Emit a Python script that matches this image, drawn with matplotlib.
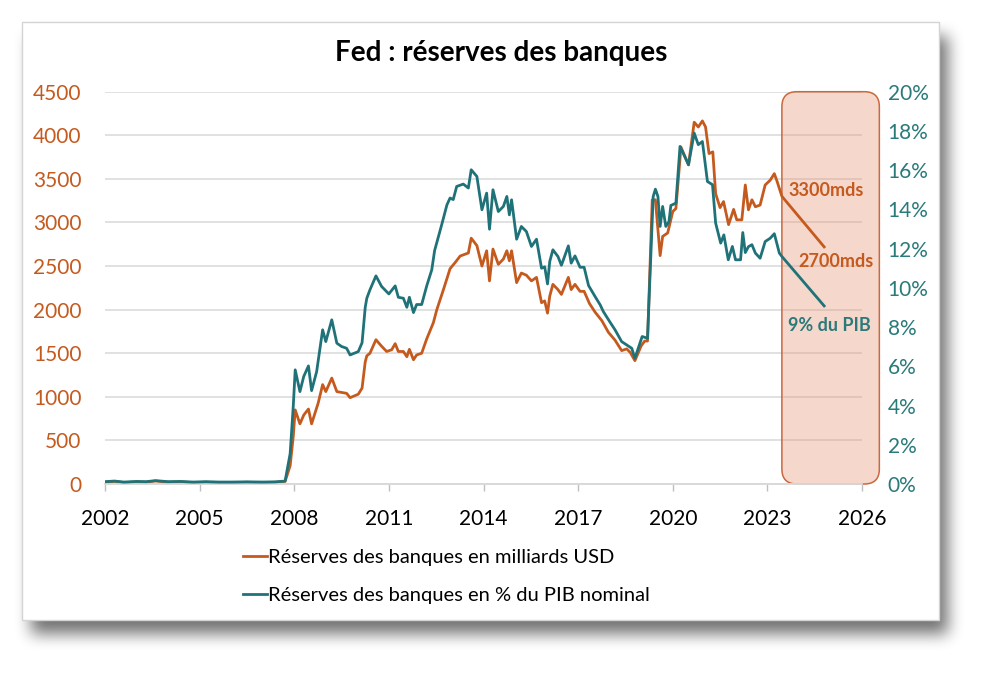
import numpy as np
import matplotlib
matplotlib.use("Agg")
import matplotlib.pyplot as plt
from matplotlib.patches import FancyBboxPatch, Rectangle

# ---------------- data ----------------
usd_years = [2002.0, 2002.3, 2002.6, 2003.0, 2003.3, 2003.6, 2004.0, 2004.4, 2004.8,
             2005.2, 2005.6, 2006.0, 2006.5, 2007.0, 2007.4, 2007.71, 2007.87, 2007.97,
             2008.03, 2008.18, 2008.30, 2008.45, 2008.55, 2008.76, 2008.90, 2009.00,
             2009.19, 2009.35, 2009.50, 2009.66, 2009.77, 2010.03, 2010.15, 2010.25,
             2010.30, 2010.40, 2010.59, 2010.77, 2010.93, 2011.09, 2011.20, 2011.30,
             2011.46, 2011.57, 2011.65, 2011.78, 2011.88, 2012.04, 2012.20, 2012.41,
             2012.52, 2012.73, 2012.94, 2013.10, 2013.26, 2013.52, 2013.61, 2013.79,
             2013.95, 2014.10, 2014.19, 2014.30, 2014.47, 2014.63, 2014.74, 2014.82,
             2014.89, 2015.05, 2015.20, 2015.36, 2015.52, 2015.68, 2015.84, 2015.94,
             2016.03, 2016.10, 2016.20, 2016.36, 2016.47, 2016.69, 2016.78, 2016.90,
             2017.06, 2017.19, 2017.36, 2017.54, 2017.75, 2017.96, 2018.17, 2018.38,
             2018.54, 2018.65, 2018.80, 2019.00, 2019.11, 2019.20, 2019.35, 2019.45,
             2019.60, 2019.68, 2019.84, 2020.00, 2020.10, 2020.26, 2020.50, 2020.68,
             2020.81, 2020.94, 2021.04, 2021.15, 2021.27, 2021.36, 2021.50, 2021.61,
             2021.77, 2021.93, 2022.03, 2022.19, 2022.30, 2022.40, 2022.51, 2022.62,
             2022.77, 2022.93, 2023.09, 2023.22, 2023.30, 2023.46, 2024.80]
usd_values = [20, 30, 15, 25, 20, 35, 20, 25, 15,
              20, 15, 15, 20, 15, 20, 30, 210, 550,
              850, 690, 790, 860, 690, 930, 1140, 1060,
              1215, 1060, 1050, 1040, 990, 1030, 1100, 1400,
              1470, 1500, 1655, 1580, 1520, 1540, 1610, 1520,
              1520, 1460, 1545, 1425, 1480, 1500, 1665, 1850,
              2000, 2230, 2470, 2540, 2615, 2650, 2820, 2735,
              2500, 2675, 2330, 2695, 2520, 2580, 2675, 2560,
              2675, 2310, 2420, 2395, 2330, 2370, 2080, 2100,
              1960, 2155, 2290, 2230, 2175, 2370, 2230, 2290,
              2210, 2210, 2070, 1970, 1875, 1740, 1650, 1530,
              1550, 1510, 1415, 1585, 1640, 1640, 3260, 3260,
              2620, 2840, 2880, 3125, 3160, 3865, 3660, 4150,
              4095, 4165, 4095, 3790, 3810, 3330, 3170, 3240,
              2975, 3150, 3030, 3030, 3430, 3145, 3260, 3180,
              3200, 3430, 3485, 3560, 3480, 3300, 2720]

pct_years = [2002.0, 2002.3, 2002.6, 2003.0, 2003.3, 2003.6, 2004.0, 2004.4, 2004.8,
             2005.2, 2005.6, 2006.0, 2006.5, 2007.0, 2007.4, 2007.71, 2007.87, 2007.97,
             2008.03, 2008.18, 2008.30, 2008.45, 2008.55, 2008.71, 2008.90, 2009.00,
             2009.19, 2009.35, 2009.50, 2009.66, 2009.77, 2010.03, 2010.15, 2010.25,
             2010.30, 2010.40, 2010.59, 2010.77, 2011.00, 2011.20, 2011.30, 2011.46,
             2011.57, 2011.65, 2011.78, 2011.88, 2012.04, 2012.20, 2012.36, 2012.45,
             2012.68, 2012.84, 2012.94, 2013.04, 2013.15, 2013.36, 2013.52, 2013.61,
             2013.79, 2013.95, 2014.10, 2014.19, 2014.30, 2014.47, 2014.63, 2014.74,
             2014.82, 2014.89, 2015.05, 2015.20, 2015.36, 2015.52, 2015.68, 2015.84,
             2015.94, 2016.03, 2016.10, 2016.20, 2016.36, 2016.47, 2016.69, 2016.78,
             2016.90, 2017.06, 2017.19, 2017.33, 2017.54, 2017.70, 2017.80, 2018.00,
             2018.17, 2018.38, 2018.54, 2018.70, 2018.80, 2019.03, 2019.20, 2019.38,
             2019.45, 2019.53, 2019.60, 2019.68, 2019.78, 2019.88, 2019.94, 2020.10,
             2020.23, 2020.50, 2020.68, 2020.81, 2020.94, 2021.10, 2021.26, 2021.36,
             2021.52, 2021.62, 2021.76, 2021.89, 2021.99, 2022.15, 2022.22, 2022.30,
             2022.40, 2022.51, 2022.62, 2022.77, 2022.93, 2023.09, 2023.22, 2023.38,
             2023.46, 2024.80]
pct_values = [0.12, 0.15, 0.10, 0.13, 0.12, 0.17, 0.12, 0.13, 0.10,
              0.12, 0.10, 0.10, 0.11, 0.10, 0.11, 0.15, 1.55, 4.0,
              5.82, 4.71, 5.48, 6.02, 4.76, 5.73, 7.86, 7.26,
              8.37, 7.18, 7.01, 6.92, 6.58, 6.75, 7.2, 9.0,
              9.47, 9.90, 10.61, 10.07, 9.69, 10.10, 9.52, 9.47,
              9.01, 9.52, 8.74, 9.15, 9.15, 10.10, 10.92, 11.9,
              13.25, 14.23, 14.58, 14.50, 15.17, 15.29, 15.09, 16.02,
              15.68, 13.98, 14.83, 12.99, 15.00, 13.89, 14.15, 14.66,
              13.72, 14.49, 12.48, 13.13, 12.87, 12.11, 12.48, 11.00,
              11.07, 10.20, 11.34, 11.94, 11.60, 11.15, 12.14, 11.26,
              11.63, 11.05, 11.05, 10.12, 9.55, 9.13, 8.79, 8.28,
              7.86, 7.26, 7.09, 6.92, 6.41, 7.52, 7.43, 14.66,
              15.03, 14.66, 13.13, 14.15, 13.13, 13.38, 14.20, 14.32,
              17.21, 16.28, 17.89, 17.30, 17.46, 15.42, 15.26, 13.30,
              12.28, 12.70, 11.43, 12.11, 11.43, 11.43, 12.82, 11.80,
              12.10, 12.20, 11.77, 11.51, 12.36, 12.53, 12.76, 11.77,
              11.60, 9.08]

x_ticks = [2002, 2005, 2008, 2011, 2014, 2017, 2020, 2023, 2026]
usd_ticks = [0, 500, 1000, 1500, 2000, 2500, 3000, 3500, 4000, 4500]
pct_ticks = [0, 2, 4, 6, 8, 10, 12, 14, 16, 18, 20]

title = "Fed : réserves des banques"
label_usd = "Réserves des banques en milliards USD"
label_pct = "Réserves des banques en % du PIB nominal"
proj_start, proj_end = 2023.46, 2026.55   # highlighted projection zone (years)
notes = [("3300mds", 2024.87, 3372, "usd"),
         ("2700mds", 2025.18, 2550, "usd"),
         ("9% du PIB", 2024.95, 8.1, "pct")]

ORANGE = "#C55A1E"
TEAL = "#1F7378"
TEAL_TXT = "#2A7A7A"
GRID = "#D9D9D9"

# ---------------- figure ----------------
W, H = 995, 676
plt.rcParams['font.family'] = ['Lato', 'DejaVu Sans']
fig = plt.figure(figsize=(W / 100, H / 100), dpi=100)
fig.patch.set_facecolor("white")

# background: card with drop shadow
bg = fig.add_axes([0, 0, 1, 1], zorder=0)
bg.set_xlim(0, W)
bg.set_ylim(H, 0)
bg.axis("off")
cx0, cy0, cx1, cy1 = 22, 22, 939, 620
mask = np.zeros((H, W))
dx, dy = 9, 14
mask[cy0 + dy:cy1 + dy, cx0 + dx:cx1 + dx] = 1.0


def box_blur(a, r):
    for axis in (0, 1):
        c = np.cumsum(np.pad(a, [(r + 1, r) if i == axis else (0, 0) for i in range(2)],
                             mode="constant"), axis=axis)
        if axis == 0:
            a = (c[2 * r + 1:, :] - c[:-2 * r - 1, :]) / (2 * r + 1)
        else:
            a = (c[:, 2 * r + 1:] - c[:, :-2 * r - 1]) / (2 * r + 1)
    return a


sh = mask
for _ in range(3):
    sh = box_blur(sh, 7)
rgba = np.zeros((H, W, 4))
rgba[..., 3] = np.clip(sh, 0, 1) * 0.55
bg.imshow(rgba, extent=(0, W, H, 0), interpolation="bilinear", zorder=0)
bg.add_patch(Rectangle((cx0, cy0), cx1 - cx0, cy1 - cy0, facecolor="white",
                       edgecolor="#D4D4D4", lw=1.0, zorder=1))

# main axes
L, R, T, B = 105, 862, 91.7, 484
ax1 = fig.add_axes([L / W, 1 - B / H, (R - L) / W, (B - T) / H], zorder=1)
ax1.patch.set_alpha(0)
ax2 = ax1.twinx()

ax1.set_xlim(2002, 2026)
ax1.set_ylim(0, 4500)
ax2.set_ylim(0, 20)

ax1.yaxis.grid(True, color=GRID, lw=1.1)
ax1.set_axisbelow(True)
for a in (ax1, ax2):
    for s in ("top", "left", "right"):
        a.spines[s].set_visible(False)
    a.spines["bottom"].set_color(GRID)
    a.spines["bottom"].set_linewidth(1.1)

l1, = ax1.plot(usd_years, usd_values, color=ORANGE, lw=2.0, zorder=3,
               solid_joinstyle="round", label=label_usd)
l2, = ax2.plot(pct_years, pct_values, color=TEAL, lw=2.0, zorder=3,
               solid_joinstyle="round", label=label_pct)

ax1.set_xticks(x_ticks)
ax1.set_xticklabels([str(t) for t in x_ticks])
ax1.set_yticks(usd_ticks)
ax1.set_yticklabels([str(t) for t in usd_ticks])
ax2.set_yticks(pct_ticks)
ax2.set_yticklabels([f"{t}%" for t in pct_ticks])

ax1.tick_params(axis="x", length=5, width=1, color="#BFBFBF", labelsize=15,
                labelcolor="black", pad=13)
ax1.tick_params(axis="y", length=0, labelsize=15, labelcolor=ORANGE, pad=17)
ax2.tick_params(axis="y", length=0, labelsize=15, labelcolor=TEAL_TXT, pad=18.5)

# highlighted projection zone (rounded box)
xpx = (R - L) / (2026 - 2002)
ypx = (B - T) / 4500
rad_px = 15
rs = rad_px / xpx
asp = (rad_px / ypx) / rs
box = FancyBboxPatch((proj_start, 0), proj_end - proj_start, 4500,
                     boxstyle=f"round,pad=0,rounding_size={rs}",
                     mutation_aspect=asp, facecolor="#E8967A", alpha=0.38,
                     edgecolor="none", zorder=1, clip_on=False)
ax1.add_patch(box)
box_edge = FancyBboxPatch((proj_start, 0), proj_end - proj_start, 4500,
                          boxstyle=f"round,pad=0,rounding_size={rs}",
                          mutation_aspect=asp, facecolor="none",
                          edgecolor="#C8693E", lw=1.1, zorder=2, clip_on=False)
ax1.add_patch(box_edge)

for txt, xv, yv, which in notes:
    a = ax1 if which == "usd" else ax2
    col = ORANGE if which == "usd" else TEAL_TXT
    a.text(xv, yv, txt, color=col, fontsize=13, fontweight="bold",
           ha="center", va="center", zorder=5, clip_on=False)

fig.text(0.5035, 1 - 53 / H, title, ha="center", va="center", fontsize=20,
         fontweight="bold", color="black")

leg = fig.legend(handles=[l1, l2], loc="upper left",
                 bbox_to_anchor=(243 / W, 1 - 549 / H), frameon=False,
                 fontsize=14.5, handlelength=1.2, handletextpad=0.05,
                 labelspacing=1.05, borderpad=0, borderaxespad=0)

fig.savefig("out.png", dpi=100, facecolor="white")
